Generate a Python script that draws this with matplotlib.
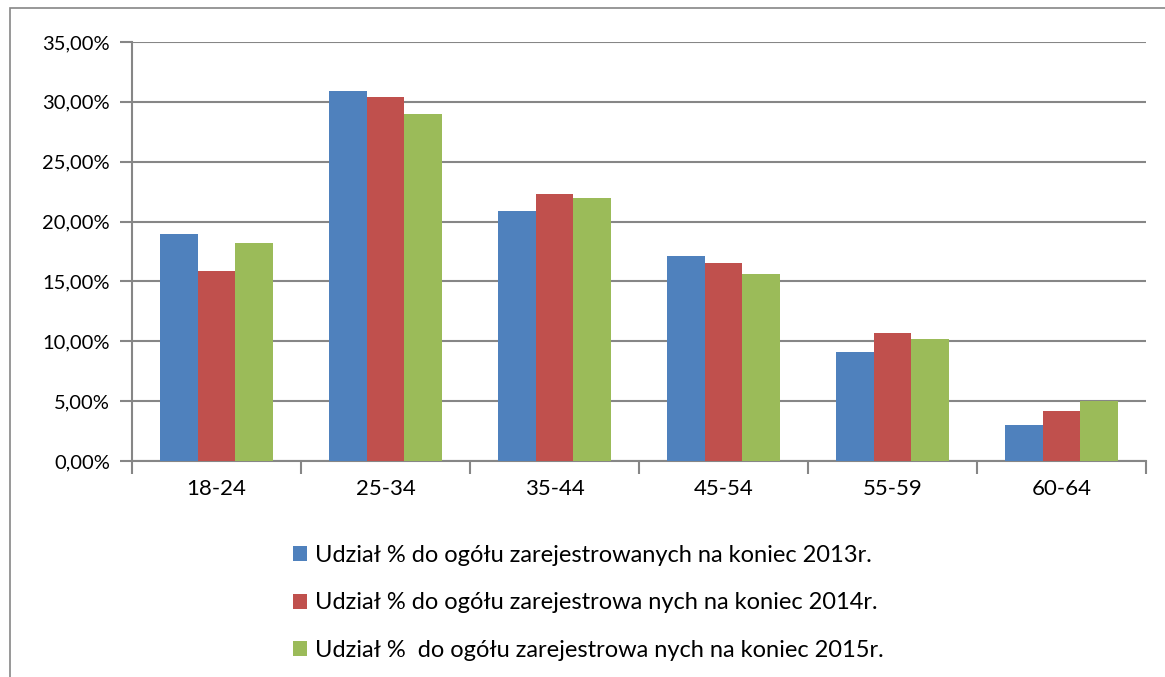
import matplotlib.pyplot as plt
import numpy as np
from matplotlib.patches import Rectangle
from matplotlib.ticker import FuncFormatter

plt.rcParams['font.family'] = ['Lato', 'DejaVu Sans']

# age groups and share of registered unemployed (%)
groups = ['18-24', '25-34', '35-44', '45-54', '55-59', '60-64']
share_2013 = [19.0, 30.9, 20.9, 17.1, 9.1, 3.0]
share_2014 = [15.9, 30.4, 22.3, 16.5, 10.7, 4.2]
share_2015 = [18.2, 29.0, 22.0, 15.6, 10.2, 5.0]
labels = ['Udział % do ogółu zarejestrowanych na koniec 2013r.',
          'Udział % do ogółu zarejestrowa nych na koniec 2014r.',
          'Udział %  do ogółu zarejestrowa nych na koniec 2015r.']
colors = ['#4F81BD', '#C0504D', '#9BBB59']

W, H = 1165, 677
fig = plt.figure(figsize=(W / 100, H / 100), dpi=100)
fig.patches.append(Rectangle((10 / W, -0.01), 1.2, (H - 8) / H + 0.01,
                             transform=fig.transFigure, fill=False,
                             edgecolor='#868686', linewidth=1.2))

ax = fig.add_axes([132 / W, 1 - 461 / H, (1146 - 132) / W, (461 - 42) / H])
x = np.arange(len(groups))
w = 0.223
for i, (vals, c, lab) in enumerate(zip([share_2013, share_2014, share_2015], colors, labels)):
    ax.bar(x + (i - 1) * w, vals, w, color=c, label=lab, zorder=3)

ax.set_xlim(-0.5, len(groups) - 0.5)
ax.set_ylim(0, 35)
ax.set_yticks(np.arange(0, 36, 5))
ax.yaxis.set_major_formatter(FuncFormatter(lambda v, p: f'{v:.2f}%'.replace('.', ',')))
ax.set_xticks(x)
ax.set_xticklabels(groups)
ax.set_xticks(np.arange(-0.5, len(groups), 1), minor=True)
ax.tick_params(axis='x', which='major', length=0, pad=13, labelsize=16)
ax.tick_params(axis='x', which='minor', length=9, width=1.5, color='#868686')
ax.tick_params(axis='y', length=9, width=1.5, color='#868686', pad=7, labelsize=14.5)
ax.grid(axis='y', color='#868686', linewidth=1.5, zorder=0)
for s in ['top', 'right']:
    ax.spines[s].set_visible(False)
for s in ['left', 'bottom']:
    ax.spines[s].set_color('#868686')
    ax.spines[s].set_linewidth(1.5)

fig.legend(loc='upper left', bbox_to_anchor=(293 / W, 1 - 545 / H), frameon=False,
           fontsize=17, handlelength=0.6, handleheight=0.6, handletextpad=0.35,
           labelspacing=1.12, borderpad=0, borderaxespad=0)

fig.savefig('out.png', dpi=100)
